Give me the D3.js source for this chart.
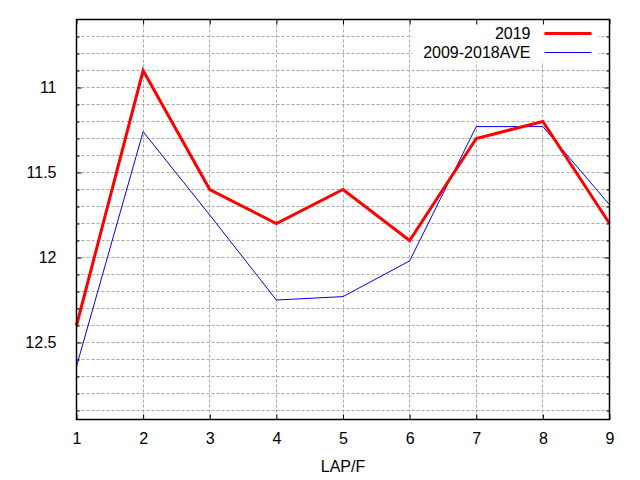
<!DOCTYPE html>
<html>
<head>
<meta charset="utf-8">
<script src="https://cdn.jsdelivr.net/npm/d3@7"></script>
<style>
    body { margin: 0; background: #fff; }
    text { font-family: "Liberation Sans", Arial, sans-serif; font-size: 16px; fill: #000; }
</style>
</head>
<body>
<div id="chart"></div>
<script>
var laps = [1, 2, 3, 4, 5, 6, 7, 8, 9];
var data2019 = [12.4, 10.9, 11.6, 11.8, 11.6, 11.9, 11.3, 11.2, 11.8];
var dataAve = [12.64, 11.26, 11.75, 12.25, 12.23, 12.02, 11.23, 11.23, 11.69];
var yMajorTicks = [11, 11.5, 12, 12.5];
var seriesNames = ["2019", "2009-2018AVE"];

var svgWidth = 640;
var svgHeight = 480;

var margin = { top: 19.5, right: 31, bottom: 61, left: 76.5 };
var chartWidth = 533;
var chartHeight = 400;

var svg = d3.select("#chart").append("svg")
    .attr("width", svgWidth)
    .attr("height", svgHeight);

var chartGroup = svg.append("g")
    .attr("transform", `translate(${margin.left}, ${margin.top})`);

// x is lap number, y is time (reversed, smaller on top)
var xScale = d3.scaleLinear()
    .domain([1, 9])
    .range([0, chartWidth]);

var yScale = d3.scaleLinear()
    .domain([10.6, 10.6 + chartHeight / 170])
    .range([0, chartHeight]);

// minor steps of 0.1 between the ends
var yMinorTicks = d3.range(107, 130).map(d => d / 10);

// grid lines (rounded so they stay on whole pixels)
chartGroup.append("g")
    .selectAll("line")
    .data(yMinorTicks)
    .enter()
    .append("line")
    .attr("x1", 0)
    .attr("x2", chartWidth)
    .attr("y1", d => Math.round(yScale(d)))
    .attr("y2", d => Math.round(yScale(d)))
    .attr("stroke", "#a8a8a8")
    .attr("stroke-dasharray", "3,2");

chartGroup.append("g")
    .selectAll("line")
    .data(laps.slice(1, -1))
    .enter()
    .append("line")
    .attr("x1", d => Math.round(xScale(d)))
    .attr("x2", d => Math.round(xScale(d)))
    .attr("y1", 0)
    .attr("y2", chartHeight)
    .attr("stroke", "#a8a8a8")
    .attr("stroke-dasharray", "3,2");

// key box covers the grid
var key = chartGroup.append("g")
    .attr("transform", `translate(${chartWidth - 197}, 0)`);

key.append("rect")
    .attr("width", 186)
    .attr("height", 42)
    .attr("fill", "#fff");

// series lines
var line = d3.line()
    .x((d, i) => xScale(laps[i]))
    .y(d => yScale(d));

chartGroup.append("path")
    .datum(dataAve)
    .attr("d", line)
    .attr("fill", "none")
    .attr("stroke", "#0000ff")
    .attr("stroke-width", 1);

chartGroup.append("path")
    .datum(data2019)
    .attr("d", line)
    .attr("fill", "none")
    .attr("stroke", "#ff0000")
    .attr("stroke-width", 3);

// key entries
var keyRows = key.selectAll(".row")
    .data(seriesNames)
    .enter()
    .append("g")
    .attr("transform", (d, i) => `translate(0, ${14 + i * 19})`);

keyRows.append("text")
    .attr("x", 118)
    .attr("dy", "0.35em")
    .attr("text-anchor", "end")
    .text(d => d);

keyRows.append("line")
    .attr("x1", 132)
    .attr("x2", 179)
    .attr("stroke", (d, i) => i == 0 ? "#ff0000" : "#0000ff")
    .attr("stroke-width", (d, i) => i == 0 ? 3 : 1);

// axes, ticks on all four sides pointing inward
var yAxisLeft = d3.axisLeft(yScale)
    .tickValues(yMajorTicks)
    .tickSize(-5)
    .tickPadding(20)
    .tickFormat(d3.format("~g"));

var yAxisRight = d3.axisRight(yScale)
    .tickValues(yMajorTicks)
    .tickSize(-5)
    .tickFormat("");

var yMinorLeft = d3.axisLeft(yScale)
    .tickValues(yMinorTicks.filter(d => yMajorTicks.indexOf(d) < 0))
    .tickSize(-3)
    .tickFormat("");

var yMinorRight = d3.axisRight(yScale)
    .tickValues(yMinorTicks.filter(d => yMajorTicks.indexOf(d) < 0))
    .tickSize(-3)
    .tickFormat("");

var xAxisBottom = d3.axisBottom(xScale)
    .tickValues(laps)
    .tickSize(-5)
    .tickPadding(13)
    .tickFormat(d3.format("d"));

var xAxisTop = d3.axisTop(xScale)
    .tickValues(laps)
    .tickSize(-5)
    .tickFormat("");

chartGroup.append("g").call(yAxisLeft);
chartGroup.append("g").call(yMinorLeft);
chartGroup.append("g").attr("transform", `translate(${chartWidth}, 0)`).call(yAxisRight);
chartGroup.append("g").attr("transform", `translate(${chartWidth}, 0)`).call(yMinorRight);
chartGroup.append("g").attr("transform", `translate(0, ${chartHeight})`).call(xAxisBottom);
chartGroup.append("g").call(xAxisTop);

chartGroup.selectAll(".domain").remove();
chartGroup.selectAll(".tick line").attr("stroke", "#000");
chartGroup.selectAll(".tick text")
    .attr("font-family", null)
    .attr("font-size", null);

// border
chartGroup.append("rect")
    .attr("width", chartWidth)
    .attr("height", chartHeight)
    .attr("fill", "none")
    .attr("stroke", "#000")
    .attr("stroke-width", 1.5);

// x label
chartGroup.append("text")
    .attr("x", chartWidth / 2)
    .attr("y", chartHeight + 52)
    .attr("text-anchor", "middle")
    .text("LAP/F");
</script>
</body>
</html>
